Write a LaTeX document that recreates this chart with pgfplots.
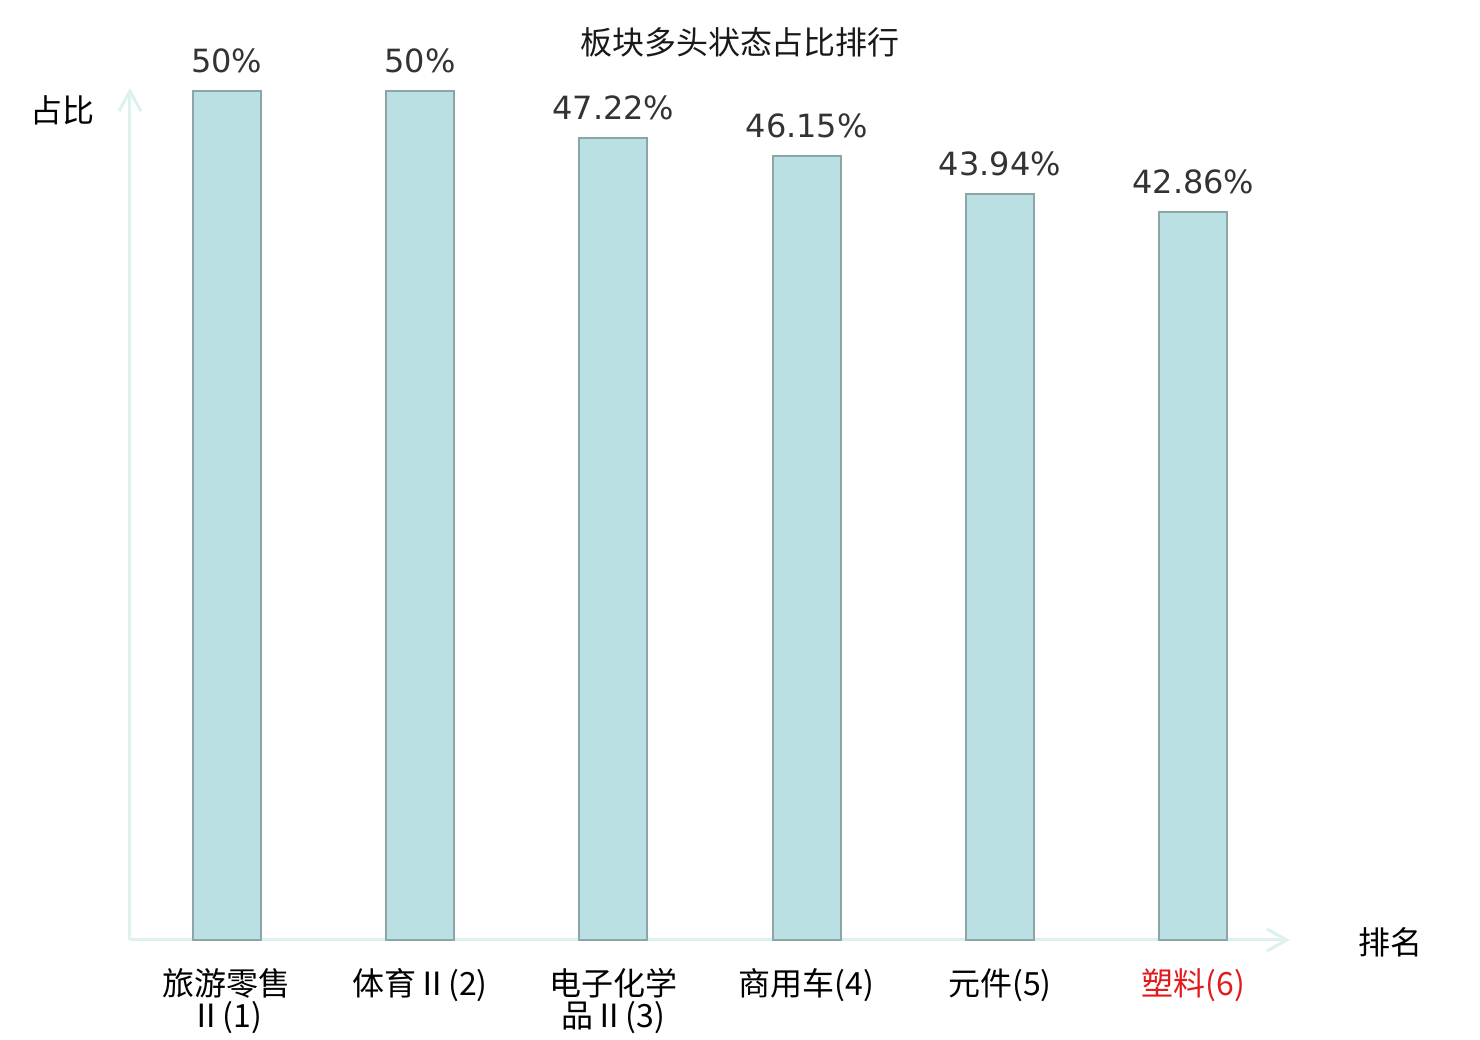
\documentclass[border=0pt]{standalone}
\usepackage{pgfplots}
\pgfplotsset{compat=1.18}
\usepackage{fontspec}
\setmainfont{DejaVu Sans}
\newfontfamily\cjk{Noto Sans CJK SC}
\usetikzlibrary{arrows.meta}
\definecolor{barfill}{HTML}{BBE0E3}
\definecolor{baredge}{HTML}{8CA6A8}
\definecolor{axcol}{HTML}{DDF1EF}
\definecolor{valtxt}{HTML}{333333}
\definecolor{redlab}{HTML}{E31A1C}
\begin{document}
\begin{tikzpicture}
\begin{axis}[name=ax, scale only axis, width=580pt, height=426pt,
  xmin=-0.5, xmax=5.5, ymin=0, ymax=50.18,
  axis lines=left,
  axis line style={axcol, line width=1.5pt, -{Straight Barb[length=10pt,width=11pt]}},
  ytick=\empty, xtick={0,1,2,3,4,5},
  xticklabels={{旅游零售\\Ⅱ(1)},{体育Ⅱ(2)},{电子化学\\品Ⅱ(3)},{商用车(4)},{元件(5)},{\textcolor{redlab}{塑料(6)}}},
  major tick length=0pt,
  xticklabel style={font=\cjk\fontsize{16}{16}\selectfont, align=center, inner sep=0pt, anchor=north, yshift=-14pt},
  point meta=explicit symbolic,
  nodes near coords={\pgfplotspointmeta\%},
  nodes near coords style={font=\fontsize{16}{16}\selectfont, text=valtxt, anchor=south, inner sep=0pt, yshift=8.5pt},
  clip=false]
\addplot[ybar, bar width=34pt, bar shift=0pt, fill=barfill, draw=baredge, line width=1pt] table[meta=lab] {
x y lab
0 50 50
1 50 50
2 47.22 47.22
3 46.15 46.15
4 43.94 43.94
5 42.86 42.86
};
\end{axis}
\node[font=\cjk\fontsize{16}{16}\selectfont, text=black!90] at ([shift={(305pt,449pt)}]ax.south west) {板块多头状态占比排行};
\node[font=\cjk\fontsize{16}{16}\selectfont] at ([shift={(-33.5pt,415pt)}]ax.south west) {占比};
\node[font=\cjk\fontsize{16}{16}\selectfont] at ([shift={(630pt,-1pt)}]ax.south west) {排名};
\path[use as bounding box] ([shift={(-65pt,-50pt)}]ax.south west) rectangle ++(740pt,520pt);
\end{tikzpicture}
\end{document}
